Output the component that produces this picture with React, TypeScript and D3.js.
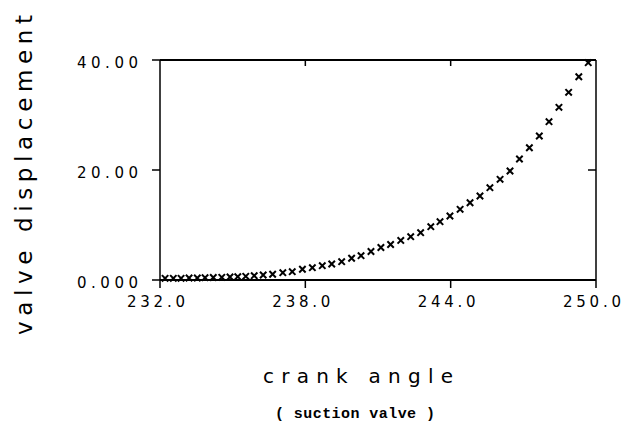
import React from 'react';
import * as d3 from 'd3';

const crankAngle = [
  232.21, 232.55, 232.87, 233.2, 233.54, 233.86, 234.2, 234.55, 234.89, 235.21,
  235.54, 235.89, 236.26, 236.65, 237.07, 237.46, 237.88, 238.29, 238.7, 239.09,
  239.5, 239.91, 240.3, 240.71, 241.12, 241.52, 241.94, 242.35, 242.76, 243.18,
  243.56, 243.97, 244.39, 244.8, 245.21, 245.62, 246.04, 246.45, 246.84, 247.25,
  247.66, 248.06, 248.47, 248.87, 249.29, 249.68,
];
const displacement = [
  0.31, 0.31, 0.31, 0.36, 0.36, 0.42, 0.45, 0.49, 0.55, 0.6,
  0.67, 0.78, 0.91, 1.04, 1.33, 1.51, 1.95, 2.24, 2.6, 2.91,
  3.33, 3.95, 4.42, 5.18, 5.91, 6.45, 7.2, 7.87, 8.6, 9.69,
  10.6, 11.64, 12.85, 14.05, 15.27, 16.78, 18.31, 19.82, 22.0, 24.05,
  26.18, 28.78, 31.4, 34.13, 36.96, 39.51,
];
const xTicks = [232, 238, 244, 250];
const xTickLabels = ['232.0', '238.0', '244.0', '250.0'];
const yTicks = [0, 20, 40];
const yTickLabels = ['0.000', '20.00', '40.00'];
const xTitle = 'crank angle';
const yTitle = 'valve displacement';
const subTitle = '( suction valve )';

const MONO = '"DejaVu Sans Mono", monospace';
const SANS = '"DejaVu Sans", sans-serif';

export default function App() {
  const W = 628;
  const H = 426;
  const x = d3.scaleLinear().domain([232, 250]).range([160, 596]);
  const y = d3.scaleLinear().domain([0, 40]).range([280, 60]);
  const [x0, x1] = x.range();
  const [y0, y1] = y.range();
  const pts = crankAngle.map((a, i) => [x(a), y(displacement[i])]);
  const s = 3.2;
  return (
    <svg
      width={W}
      height={H}
      viewBox={`0 0 ${W} ${H}`}
      style={{ position: 'fixed', left: 0, top: 0, background: '#fff' }}
    >
      <rect x={0} y={0} width={W} height={H} fill="#fff" />
      {/* frame */}
      <line x1={x0} x2={x1} y1={y1} y2={y1} stroke="#000" strokeWidth={2} />
      <line x1={x0} x2={x1} y1={y0} y2={y0} stroke="#000" strokeWidth={2} />
      <line x1={x0} x2={x0} y1={y0} y2={y1} stroke="#000" strokeWidth={1.5} />
      <line x1={x1} x2={x1} y1={y0} y2={y1} stroke="#000" strokeWidth={1.5} />
      {/* x ticks */}
      {xTicks.map((t, i) => (
        <g key={'xt' + i}>
          <line x1={x(t)} x2={x(t)} y1={y0} y2={y0 + 8} stroke="#000" strokeWidth={1.5} />
          {i > 0 && i < xTicks.length - 1 && (
            <line x1={x(t)} x2={x(t)} y1={y1} y2={y1 + 6} stroke="#000" strokeWidth={1.5} />
          )}
          <text
            x={x(t) - 4}
            y={y0 + 27}
            textAnchor="middle"
            fontFamily={SANS}
            fontSize={15}
            textLength={58}
            lengthAdjust="spacing"
            fill="#000"
          >
            {xTickLabels[i]}
          </text>
        </g>
      ))}
      {/* y ticks */}
      {yTicks.map((t, i) => (
        <g key={'yt' + i}>
          <line x1={x0 - 8} x2={x0} y1={y(t)} y2={y(t)} stroke="#000" strokeWidth={1.5} />
          {i > 0 && i < yTicks.length - 1 && (
            <line x1={x1 - 8} x2={x1} y1={y(t)} y2={y(t)} stroke="#000" strokeWidth={1.5} />
          )}
          <text
            x={x0 - 22}
            y={y(t) + 8}
            textAnchor="end"
            fontFamily={SANS}
            fontSize={15}
            textLength={61}
            lengthAdjust="spacing"
            fill="#000"
          >
            {yTickLabels[i]}
          </text>
        </g>
      ))}
      {/* markers */}
      {pts.map(([px, py], i) => (
        <path
          key={'m' + i}
          d={`M${px - s},${py - s}L${px + s},${py + s}M${px - s},${py + s}L${px + s},${py - s}`}
          stroke="#000"
          strokeWidth={2}
          fill="none"
        />
      ))}
      {/* titles */}
      <text
        transform={`translate(32,175) rotate(-90)`}
        textAnchor="middle"
        fontFamily={SANS}
        fontSize={23}
        textLength={320}
        lengthAdjust="spacing"
        fill="#000"
      >
        {yTitle}
      </text>
      <text
        x={358}
        y={383}
        textAnchor="middle"
        fontFamily={SANS}
        fontSize={20}
        textLength={190}
        lengthAdjust="spacing"
        fill="#000"
      >
        {xTitle}
      </text>
      <text
        x={355}
        y={418}
        textAnchor="middle"
        fontFamily='"Liberation Mono", "Courier New", monospace'
        fontWeight="bold"
        fontSize={15}
        textLength={160}
        lengthAdjust="spacing"
        fill="#000"
      >
        {subTitle}
      </text>
    </svg>
  );
}
